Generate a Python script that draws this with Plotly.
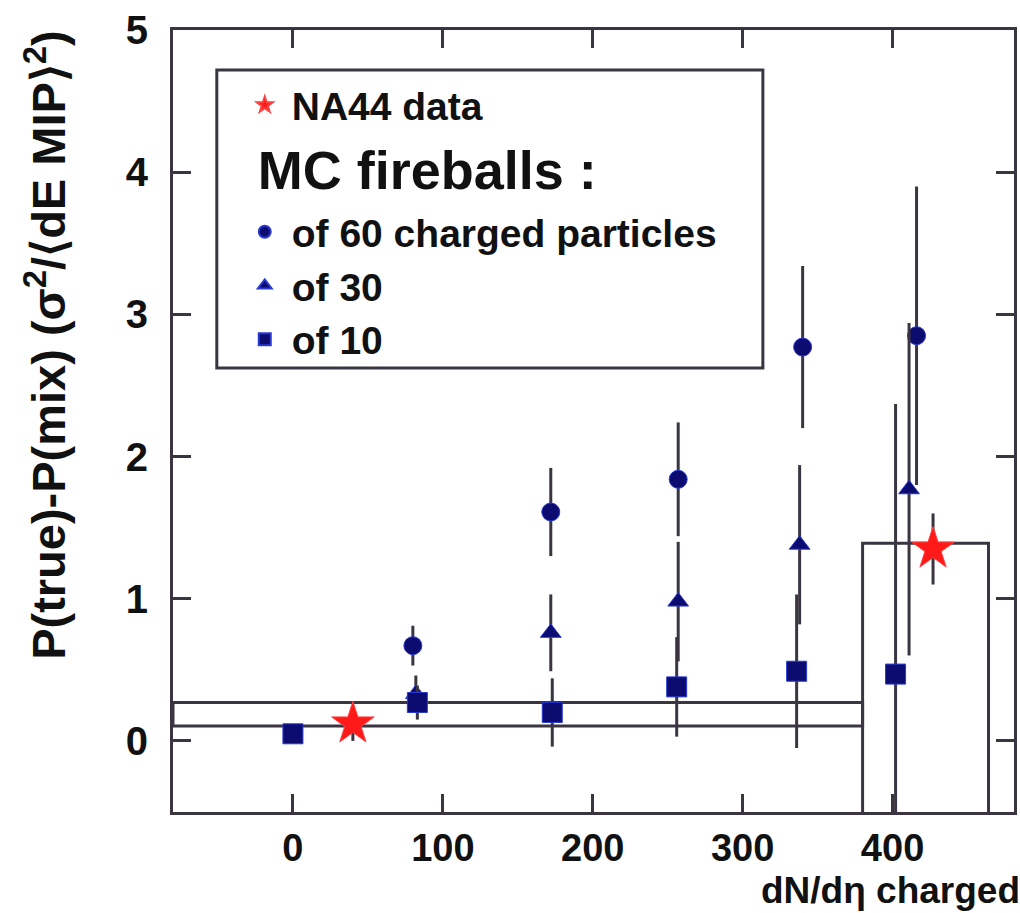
import plotly.graph_objects as go

# Charged-particle density bins (dN/deta) and fluctuation excess for the MC fireballs
x_fb60 = [80, 172, 257, 340, 416]
y_fb60 = [0.67, 1.61, 1.84, 2.77, 2.85]
e_fb60 = [0.14, 0.31, 0.40, 0.57, 1.05]

x_fb30 = [82, 172, 257, 338, 411]
y_fb30 = [0.33, 0.76, 0.98, 1.38, 1.77]
e_fb30 = [0.13, 0.27, 0.42, 0.56, 1.17]

x_fb10 = [0, 83, 173, 256, 336, 402]
y_fb10 = [0.05, 0.27, 0.20, 0.38, 0.49, 0.47]
e_fb10 = [0.03, 0.12, 0.24, 0.35, 0.54, 1.90]

# NA44 measurements with statistical errors
x_na44 = [40, 427]
y_na44 = [0.12, 1.35]
e_na44 = [0.12, 0.25]

# NA44 systematic bands: x extent and y extent of each band
sys_x_lo = [-80, 380]
sys_x_hi = [380, 464]
sys_y_lo = [0.105, -0.8]
sys_y_hi = [0.27, 1.39]

x_ticks = [0, 100, 200, 300, 400]
y_ticks = [0, 1, 2, 3, 4, 5]

FONT = "Liberation Sans"
INK = "#3a3540"
NAVY = "#0b0b70"
EDGE = "#2a3ad0"

fig = go.Figure()

# systematic bands drawn as open rectangles
for x0, x1, y0, y1 in zip(sys_x_lo, sys_x_hi, sys_y_lo, sys_y_hi):
    fig.add_trace(go.Scatter(
        x=[x0, x1, x1, x0, x0], y=[y0, y0, y1, y1, y0],
        mode="lines", line=dict(color=INK, width=3),
        showlegend=False, hoverinfo="skip"))

def err(vals):
    return dict(type="data", array=vals, visible=True, color=INK,
                thickness=3, width=0)

fig.add_trace(go.Scatter(
    x=x_fb60, y=y_fb60, error_y=err(e_fb60), mode="markers",
    marker=dict(symbol="circle", size=18, color=NAVY, line=dict(color=EDGE, width=1)),
    name="of 60 charged particles", legendgroup="mc", legendrank=2,
    legendgrouptitle=dict(text=" MC fireballs :",
                          font=dict(family=FONT, size=54, color="#111", weight="bold"))))
fig.add_trace(go.Scatter(
    x=x_fb30, y=y_fb30, error_y=err(e_fb30), mode="markers",
    marker=dict(symbol="triangle-up", size=18, color=NAVY, line=dict(color=EDGE, width=1)),
    name="of 30", legendgroup="mc", legendrank=3))
fig.add_trace(go.Scatter(
    x=x_fb10, y=y_fb10, error_y=err(e_fb10), mode="markers",
    marker=dict(symbol="square", size=20, color=NAVY, line=dict(color=EDGE, width=1)),
    name="of 10", legendgroup="mc", legendrank=4))
fig.add_trace(go.Scatter(
    x=x_na44, y=y_na44, error_y=err(e_na44), mode="markers",
    marker=dict(symbol="star", size=32, color="#ff1a1a", line=dict(color="#ff4040", width=1)),
    name="NA44 data", legendgroup="data", legendrank=1))

axis_common = dict(
    showline=True, linecolor=INK, linewidth=3, mirror="ticks",
    ticks="inside", ticklen=18, tickwidth=3, tickcolor=INK,
    showgrid=False, zeroline=False,
)
tick_font = dict(family=FONT, size=40, color="#111", weight="bold")

fig.update_xaxes(range=[-80, 481], tickvals=x_ticks, ticklabelstandoff=0,
                 tickfont=dict(tick_font, size=38), **axis_common)
fig.update_yaxes(range=[-0.5, 5.0], tickvals=y_ticks, ticklabelstandoff=14,
                 tickfont=tick_font, **axis_common)

fig.update_layout(
    width=1020, height=913,
    margin=dict(l=173, r=3, t=30, b=101),
    paper_bgcolor="white", plot_bgcolor="white",
    font=dict(family=FONT, color="#111"),
    legend=dict(
        x=0.077, y=0.945, xanchor="left", yanchor="top",
        bgcolor="rgba(0,0,0,0)", borderwidth=0, itemwidth=44,
        font=dict(family=FONT, size=39, color="#111", weight="bold"),
        itemsizing="constant", traceorder="grouped", tracegroupgap=0,
    ),
    shapes=[
        # frame around the legend
        dict(type="rect", xref="paper", yref="paper",
             x0=0.0521, x1=0.7014, y0=0.5678, y1=0.9488,
             line=dict(color=INK, width=3), fillcolor="rgba(0,0,0,0)", layer="above"),
    ],
    annotations=[
        dict(text="P(true)-P(mix) (σ<sup>2</sup>/⟨dE MIP⟩<sup>2</sup>)",
             xref="paper", yref="paper", x=-0.152, y=1.003,
             xanchor="center", yanchor="top", textangle=-90, showarrow=False,
             font=dict(family=FONT, size=47, color="#111", weight="bold")),
        dict(text="dN/dη charged", xref="paper", yref="paper",
             x=1.01, y=-0.1, xanchor="right", yanchor="middle", showarrow=False,
             font=dict(family=FONT, size=37, color="#111", weight="bold")),
    ],
)

fig.write_html("out.html")
